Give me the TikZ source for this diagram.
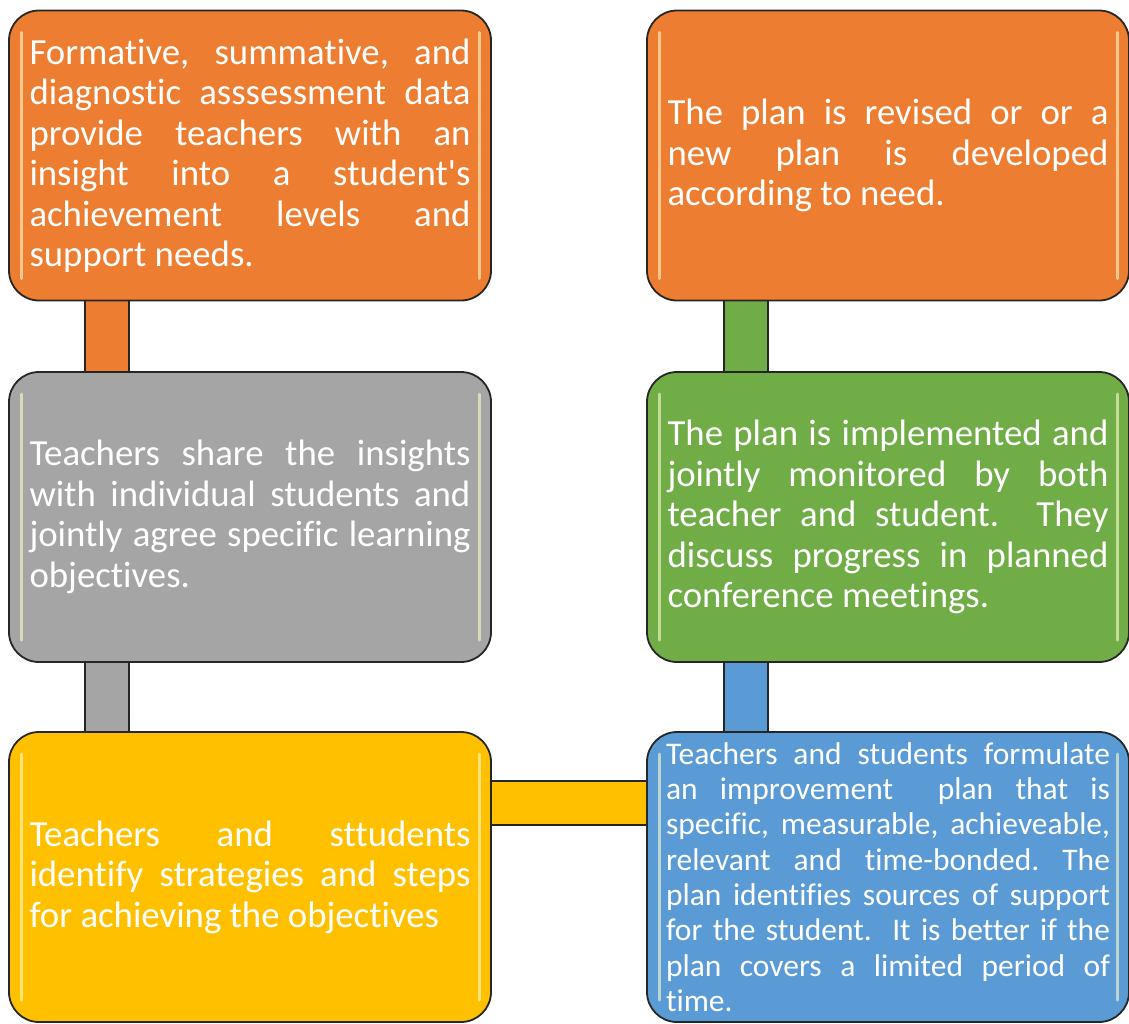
\documentclass[tikz,border=0pt]{standalone}
\usepackage{fontspec}
\setmainfont{Carlito}[Ligatures={NoCommon}]
\usetikzlibrary{backgrounds}
\definecolor{boxorange}{HTML}{ED7D31}
\definecolor{boxgrey}{HTML}{A5A5A5}
\definecolor{boxgreen}{HTML}{70AD47}
\definecolor{boxyellow}{HTML}{FFC000}
\definecolor{boxblue}{HTML}{5B9BD5}
\frenchspacing
\newcommand{\cardfont}{\fontsize{36.8}{40.5}\selectfont\hyphenpenalty=10000\tolerance=10000}
\newcommand{\smallcardfont}{\fontsize{31.5}{35.3}\selectfont\hyphenpenalty=10000\tolerance=10000}

\begin{document}
\begin{tikzpicture}[x=1pt,y=-1pt,
	card/.style={draw=black!85,line width=1.8pt,rounded corners=30pt,minimum width=482pt,minimum height=290pt,
		text width=441pt,align=justify,text=white,font=\cardfont,
		path picture={
			\draw[white!80!yellow,opacity=.6,line width=3pt,line cap=round] ([xshift=12pt,yshift=-22pt]path picture bounding box.north west) -- ([xshift=12pt,yshift=22pt]path picture bounding box.south west);
			\draw[white!80!yellow,opacity=.6,line width=3pt,line cap=round] ([xshift=-12pt,yshift=-22pt]path picture bounding box.north east) -- ([xshift=-12pt,yshift=22pt]path picture bounding box.south east);}},
	bar/.style={draw=black!85,line width=1.8pt,double distance=42pt}]
	\useasboundingbox (0,0) rectangle (1129,1023);
	% left column
	\node[card,fill=boxorange] (assess) at (250,155.5) {Formative, summative, and\linebreak diagnostic asssessment data\linebreak provide teachers with an\linebreak insight into a student\textquotesingle s\linebreak achievement levels and\linebreak support needs.};
	\node[card,fill=boxgrey] (share) at (250,517) {Teachers share the insights\linebreak with individual students and\linebreak jointly agree specific learning\linebreak objectives.};
	\node[card,fill=boxyellow] (identify) at (250,877) {Teachers and sttudents\linebreak identify strategies and steps\linebreak for achieving the objectives};
	% right column
	\node[card,fill=boxblue,text width=444pt,font=\smallcardfont] (formulate) at (888,877) {Teachers and students formulate\linebreak an improvement\ \ plan that is\linebreak specific, measurable, achieveable,\linebreak relevant and time-bonded. The\linebreak plan identifies sources of support\linebreak for the student.\ \ It is better if the\linebreak plan covers a limited period of\linebreak time.};
	\node[card,fill=boxgreen] (implement) at (888,517) {The plan is implemented and\linebreak jointly monitored by both\linebreak teacher and student.\ \ They\linebreak discuss progress in planned\linebreak conference meetings.};
	\node[card,fill=boxorange] (revise) at (888,155.5) {The plan is revised or or a\linebreak new plan is developed\linebreak according to need.};
	% connectors
	\begin{scope}[on background layer]
		\draw[bar,double=boxorange] ([xshift=99pt]assess.south west) -- ([xshift=99pt]share.north west);
		\draw[bar,double=boxgrey] ([xshift=99pt]share.south west) -- ([xshift=99pt]identify.north west);
		\draw[bar,double=boxyellow] ([yshift=-72pt]identify.north east) -- ([yshift=-72pt]formulate.north west);
		\draw[bar,double=boxblue] ([xshift=100pt]formulate.north west) -- ([xshift=100pt]implement.south west);
		\draw[bar,double=boxgreen] ([xshift=100pt]implement.north west) -- ([xshift=100pt]revise.south west);
	\end{scope}
\end{tikzpicture}
\end{document}
